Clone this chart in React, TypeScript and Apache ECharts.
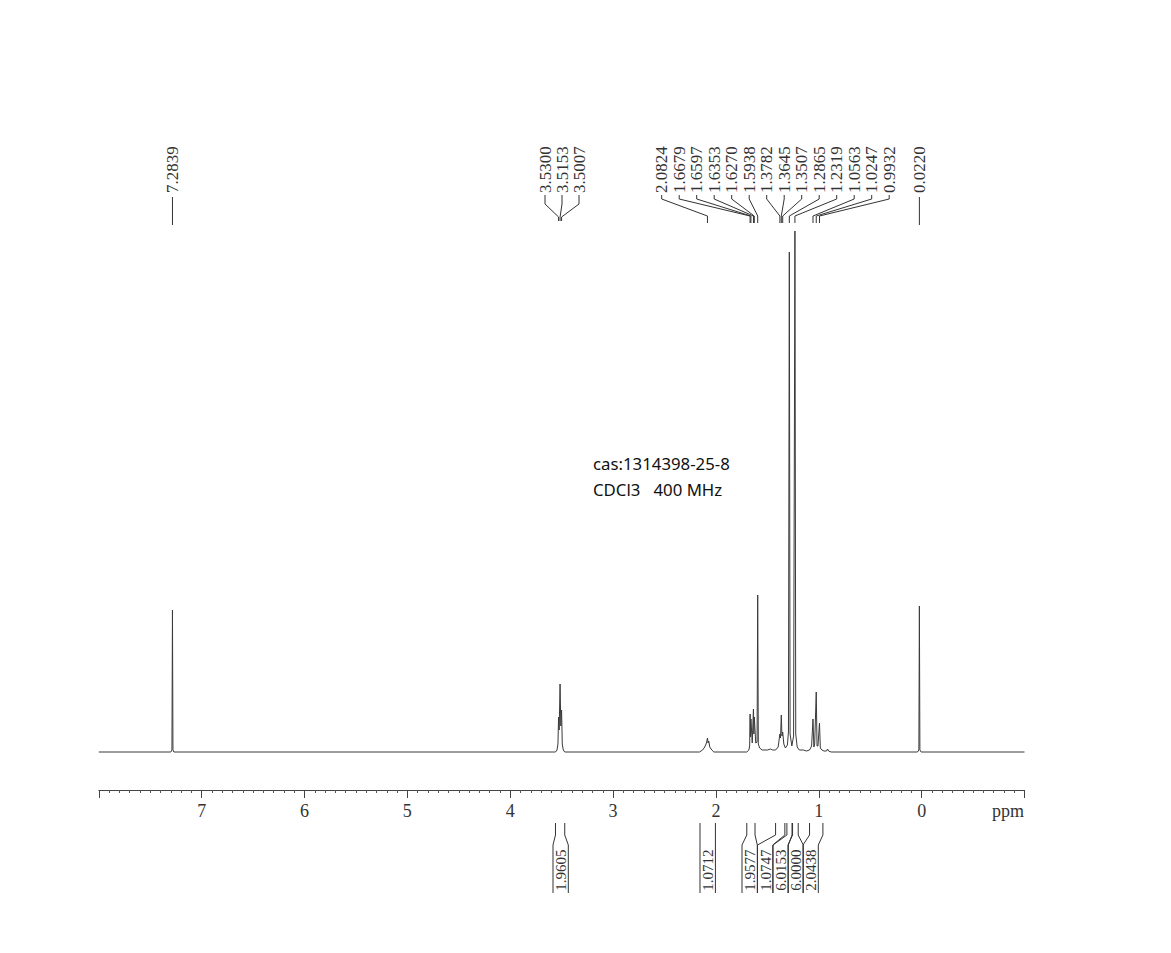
import React, { useEffect, useRef } from "react";
import * as echarts from "echarts";

// Spectrum profile vertices: [ppm, intensity]
const SPECTRUM: [number, number][] = [
  [8.0, 0], [7.3, 0], [7.289, 2], [7.2839, 142], [7.279, 2], [7.27, 0],
  [3.56, 0], [3.545, 2], [3.536, 8], [3.53, 35], [3.524, 22], [3.5153, 68], [3.508, 26], [3.5007, 42], [3.494, 8], [3.484, 2], [3.47, 0],
  [2.16, 0], [2.13, 2], [2.115, 4], [2.1, 7], [2.09, 10], [2.0824, 14], [2.076, 9], [2.07, 11], [2.06, 5], [2.04, 2], [2.02, 0],
  [1.70, 0], [1.68, 2], [1.672, 6], [1.6679, 38], [1.664, 15], [1.6597, 33], [1.647, 9], [1.6353, 43], [1.631, 18], [1.627, 35], [1.613, 9],
  [1.60, 10], [1.5938, 157], [1.588, 8], [1.575, 4], [1.55, 2], [1.50, 2], [1.47, 3], [1.45, 2], [1.42, 2], [1.395, 5],
  [1.3782, 18], [1.372, 14], [1.3645, 37], [1.358, 16], [1.3507, 20], [1.34, 8], [1.325, 4], [1.305, 7], [1.295, 20],
  [1.2865, 500], [1.279, 18], [1.262, 6], [1.245, 16], [1.2319, 521], [1.224, 18], [1.21, 5], [1.19, 2], [1.15, 2], [1.12, 1],
  [1.09, 2], [1.07, 6], [1.0563, 33], [1.048, 5], [1.04, 8], [1.0247, 60], [1.017, 6], [1.008, 6], [0.9932, 29], [0.985, 4],
  [0.97, 2], [0.95, 1], [0.925, 1], [0.915, 3], [0.905, 1], [0.88, 0],
  [0.04, 0], [0.027, 2], [0.022, 146], [0.017, 2], [0.005, 0], [-1.0, 0],
];

// Peak pick labels (ppm), in groups
const PEAK_GROUP_A = ["7.2839"];
const PEAK_GROUP_B = ["3.5300", "3.5153", "3.5007"];
const PEAK_GROUP_C = ["2.0824", "1.6679", "1.6597", "1.6353", "1.6270", "1.5938", "1.3782", "1.3645", "1.3507", "1.2865", "1.2319", "1.0563", "1.0247", "0.9932"];
const PEAK_GROUP_D = ["0.0220"];

// Integrals
const INTEGRAL_VALUES = ["1.9605", "1.0712", "1.9577", "1.0747", "6.0153", "6.0000", "2.0438"];
const INTEGRAL_RANGES: [number, number][] = [
  [3.56, 3.47], [2.155, 2.005], [1.70, 1.62], [1.42, 1.33], [1.31, 1.26], [1.255, 1.20], [1.09, 0.96],
];

const X_TICK_LABELS = ["7", "6", "5", "4", "3", "2", "1", "0"];
const ANNOTATION_LINES = ["cas:1314398-25-8", "CDCl3   400 MHz"];

const SERIF = '"Liberation Serif", "DejaVu Serif", serif';
const INK = "#333";

export default function App() {
  const ref = useRef<HTMLDivElement>(null);
  useEffect(() => {
    if (!ref.current) return;
    const chart = echarts.init(ref.current, undefined, { renderer: "svg" });
    chart.setOption({
      animation: false,
      backgroundColor: "#fff",
      grid: { left: 98.8, right: 146.5, top: 200, bottom: 163 },
      xAxis: {
        type: "value",
        min: -1,
        max: 8,
        interval: 1,
        inverse: true,
        axisLine: { show: true, onZero: false, lineStyle: { color: "#444", width: 1 } },
        axisTick: { show: true, length: 8, lineStyle: { color: "#444" } },
        minorTick: { show: true, splitNumber: 10, length: 3, lineStyle: { color: "#555" } },
        splitLine: { show: false },
        axisLabel: {
          margin: 12,
          color: INK,
          fontFamily: SERIF,
          fontSize: 18,
          formatter: (v: number) => (X_TICK_LABELS.includes(String(v)) ? String(v) : ""),
        },
      },
      yAxis: { type: "value", min: -38, max: 552, show: false },
      series: [
        {
          type: "line",
          data: SPECTRUM,
          symbol: "none",
          lineStyle: { color: "#3a3a3a", width: 1 },
          clip: false,
        },
      ],
    });

    const px = (ppm: number) => chart.convertToPixel({ xAxisIndex: 0 }, ppm) as number;
    const graphic: any[] = [];
    const textStyle = (t: string, size: number) => ({
      text: t,
      fill: INK,
      font: `${size}px ${SERIF}`,
      align: "left",
      verticalAlign: "middle",
    });

    const straight = (label: string) => {
      const x = px(parseFloat(label));
      graphic.push({ type: "text", x, y: 193, rotation: Math.PI / 2, style: textStyle(label, 17) });
      graphic.push({ type: "line", shape: { x1: x, y1: 197, x2: x, y2: 225 }, style: { stroke: INK, lineWidth: 1 } });
    };
    PEAK_GROUP_A.forEach(straight);
    PEAK_GROUP_D.forEach(straight);

    const fan = (labels: string[], startX: number, step: number, tickTop: number, tickBot: number, bend: number, end: number) => {
      labels.forEach((label, i) => {
        const lx = startX + i * step;
        const pxv = px(parseFloat(label));
        graphic.push({ type: "text", x: lx, y: tickTop - 2, rotation: Math.PI / 2, style: textStyle(label, 17) });
        graphic.push({
          type: "polyline",
          shape: { points: [[lx, tickTop], [lx, tickBot], [pxv, bend], [pxv, end]] },
          style: { stroke: INK, lineWidth: 1, fill: "none" },
        });
      });
    };
    fan(PEAK_GROUP_B, 545, 17, 195, 204, 217, 221);
    fan(PEAK_GROUP_C, 661.7, 17.5, 195, 199, 216, 223);

    const boxW = 15.3;
    const boxLefts = [553, 700, 742, 757.5, 773, 788, 803];
    INTEGRAL_VALUES.forEach((val, i) => {
      const [a, b] = INTEGRAL_RANGES[i];
      const xa = px(a);
      const xb = px(b);
      const bl = boxLefts[i];
      const br = i === 1 ? xb : bl + boxW;
      const blx = i === 1 ? xa : bl;
      graphic.push({
        type: "polyline",
        shape: { points: [[xa, 823], [xa, 835], [blx, 845], [blx, 893]] },
        style: { stroke: INK, lineWidth: 1, fill: "none" },
      });
      graphic.push({
        type: "polyline",
        shape: { points: [[xb, 823], [xb, 835], [br, 845], [br, 893]] },
        style: { stroke: INK, lineWidth: 1, fill: "none" },
      });
      graphic.push({
        type: "text",
        x: (blx + br) / 2 + 0.5,
        y: 870,
        rotation: Math.PI / 2,
        style: { ...textStyle(val, 15), align: "center" },
      });
    });

    graphic.push({ type: "text", x: 1008, y: 811, style: { ...textStyle("ppm", 18), align: "center" } });

    ANNOTATION_LINES.forEach((t, i) => {
      graphic.push({
        type: "text",
        x: 593,
        y: 463 + i * 26,
        style: { text: t, fill: "#111", font: '16.8px "Noto Sans", sans-serif', align: "left", verticalAlign: "middle" },
      });
    });

    chart.setOption({ graphic });
    return () => chart.dispose();
  }, []);
  return <div ref={ref} style={{ position: "absolute", left: 0, top: 0, width: 1171, height: 953 }} />;
}
